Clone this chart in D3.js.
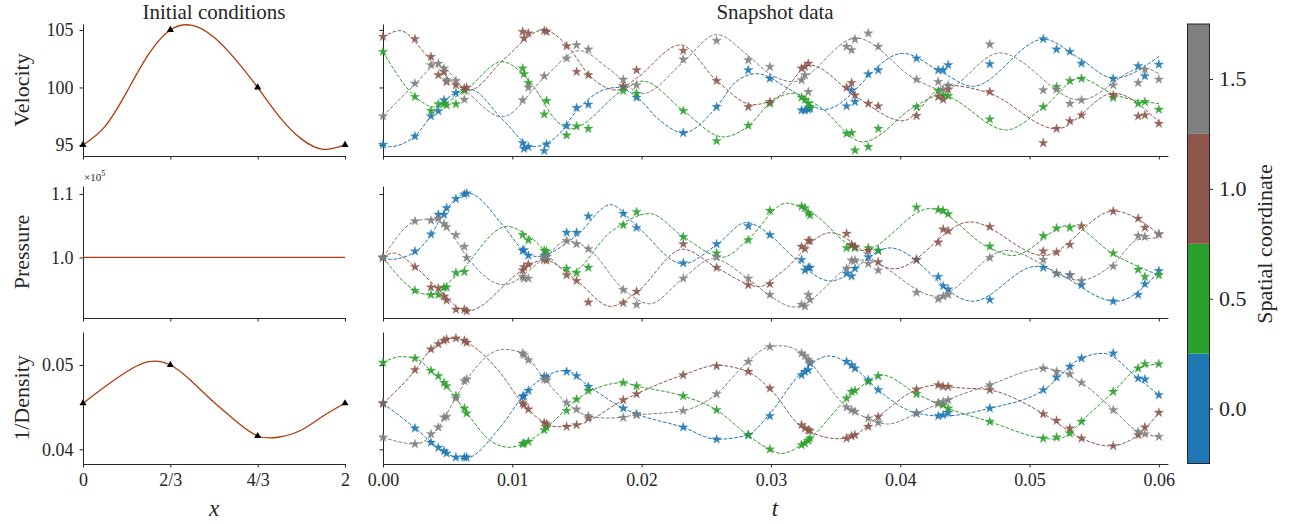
<!DOCTYPE html>
<html><head><meta charset="utf-8">
<script src="https://cdn.jsdelivr.net/npm/d3@7/dist/d3.min.js"></script>
<style>
html,body{margin:0;padding:0;background:#fff;}
svg{display:block;}
</style></head>
<body>
<svg id="chart" width="1293" height="524"></svg>
<script>
// ---------------- DATA ----------------
const seriesLabels = ["0.0", "0.5", "1.0", "1.5"];
const seriesColors = ["#1f77b4", "#2ca02c", "#8c564b", "#7f7f7f"];
const colorbarTicks = [0, 0.5, 1.0, 1.5];

// initial conditions (left column)
const xInit = [0, 0.1667, 0.3333, 0.5, 0.6667, 0.8333, 1, 1.1667, 1.3333, 1.5, 1.6667, 1.8333, 2];
const velInit = [95.0, 96.6, 99.6, 102.87, 105.0, 105.4, 104.36, 102.4, 100.0, 97.45, 95.53, 94.62, 95.0];
const presInit = [1, 1, 1, 1, 1, 1, 1, 1, 1, 1, 1, 1, 1];
const densInit = [0.04546, 0.04743, 0.0492, 0.05039, 0.0500, 0.04802, 0.04557, 0.04336, 0.04158, 0.04146, 0.04229, 0.04395, 0.04546];
const xTri = [0, 0.6667, 1.3333, 2];
const velTri = [95, 105, 100, 95];
const densTri = [0.04546, 0.0500, 0.04158, 0.04546];
const xInitTicks = [0, 0.6667, 1.3333, 2];
const xInitTickLabels = ["0", "2/3", "4/3", "2"];
const tTicks = [0, 0.01, 0.02, 0.03, 0.04, 0.05, 0.06];

// snapshot times (stars)
const snapT = [0, 0.00247, 0.00371, 0.00428, 0.00472, 0.00492, 0.00564, 0.00629, 0.00647,
  0.0108, 0.0109, 0.01124, 0.01247, 0.01265, 0.0142, 0.01497, 0.01588,
  0.01858, 0.01961, 0.02322, 0.0258, 0.02825, 0.02992,
  0.03237, 0.03263, 0.03289, 0.03302, 0.03585, 0.03624, 0.0365, 0.03753, 0.0383,
  0.04126, 0.04294, 0.04332, 0.04371, 0.04693, 0.05106, 0.05209, 0.05312, 0.05402, 0.05647, 0.0584, 0.05892, 0.06];

// Velocity stars
const velStarsBlue = [95.03,95.76,97.5,97.94,98.9,null,99.53,null,null, 95.17,94.68,94.83,94.48,95.06,96.69,98.23,98.52, 100.0,99.13,96.05,98.31,101.51,100.78, 98.02,98.02,98.08,98.17,98.37,99.77,98.75,101.16,101.51, 102.53,101.51,101.51,101.95,102.03,104.22,103.31,103.11,102.09,100.78,101.86,100.99,102.0];
const velStarsGreen = [103.11,99.19,97.97,98.55,98.55,98.46,98.55,99.71,null, 101.66,101.16,100.41,97.67,98.84,95.84,96.63,96.42, 99.71,99.48,97.97,95.35,96.69,98.6, 99.13,98.95,98.6,98.31,95.99,96.05,94.53,94.83,96.42, 98.31,99.71,99.33,99.27,97.24,98.31,100.06,100.58,100.78,99.1,98.6,98.75,98.08];
const velStarsBrown = [104.42,104.22,102.67,101.08,101.37,100.49,100.2,99.91,100.0, 104.85,104.27,104.71,104.94,104.85,103.6,101.37,101.08, 100.12,101.51,103.2,100.58,98.31,98.75, 101.66,101.8,102.09,null,100.0,100.41,99.33,98.6,98.37, 97.53,99.19,98.95,99.83,99.62,95.17,96.42,97.09,97.59,99.33,97.5,97.59,96.86];
const velStarsGray = [97.5,100.35,101.95,102.09,101.66,100.64,100.58,98.95,null, 98.9,null,100.0,100.99,null,102.53,103.69,103.31, 100.7,100.2,102.44,104.07,102.38,101.8, 100.64,101.08,99.62,null,103.55,103.26,104.19,104.71,103.55, 100.7,100.49,99.83,100.2,103.75,99.77,99.83,98.6,98.9,100.2,100.41,101.57,100.7];

// Pressure stars (x 1e5)
const presStarsBlue = [1.0,1.0098,1.0366,1.0675,1.0675,1.0778,1.0922,1.0994,1.101, 1.0108,1.0118,1.0031,1.0031,1.0015,1.0392,1.0392,1.0649, 1.069,1.0469,0.9912,1.0211,1.0495,1.0355, 0.9964,0.9799,0.984,0.984,0.9748,0.9706,0.9825,1.0005,1.0108, 0.9964,0.9696,0.9552,0.95,0.9335,0.984,0.9748,0.9722,0.9567,0.931,0.9413,0.9583,0.9789];
const presStarsGreen = [1.0,0.948,0.9413,0.9413,0.9526,0.9531,0.9758,0.9773,null, 1.0355,null,1.0273,1.0108,1.0098,0.9825,0.9758,0.984, 1.051,1.0716,1.0325,1.0067,1.0273,1.0737, 1.0804,1.0778,1.0701,1.0665,1.0149,1.0185,1.0149,1.0149,1.0108, 1.0788,1.0752,1.0737,1.0685,1.0175,1.034,1.0459,1.0469,null,1.0067,0.9809,0.9696,0.9722];
const presStarsBrown = [1.0,0.9851,0.9531,0.9516,0.9387,0.9325,0.9181,0.9181,0.9155, 0.9799,0.9851,0.9892,0.9964,0.9954,0.9722,0.9634,0.9294, 0.9284,0.9464,1.0211,0.984,0.9567,0.9583, 1.017,1.0134,1.0263,1.0263,1.0376,1.0201,1.017,1.0108,0.9928, 0.9964,1.0237,1.0443,1.0417,1.0484,1.0098,1.0082,1.0201,1.0495,1.0726,1.0613,1.0469,1.0366];
const presStarsGray = [1.0,1.0572,1.0582,1.0613,1.0531,1.0479,1.0355,1.017,0.9995, 0.9696,0.967,0.967,0.9995,1.0015,1.0263,1.0211,1.0134, 0.949,0.9258,0.967,1.0005,0.967,0.9413, 0.9258,0.9232,0.9413,0.9335,0.9825,0.9954,0.9954,0.9902,0.9799, 0.9449,0.9346,0.9387,0.9413,0.9995,0.9964,0.9748,0.9722,0.9634,0.9861,1.034,1.0325,1.0366];

// 1/Density stars
const densStarsBlue = [0.04545,0.04249,0.0408,0.0402,0.0398,0.03953,0.03905,0.03905,0.03905, 0.04625,0.04632,0.04696,0.04862,0.04854,0.04921,0.0487,0.04743, 0.04486,0.04419,0.04261,0.04119,0.0417,0.04395, 0.04881,0.04921,0.04941,0.0502,0.0504,0.05,0.0496,0.04822,0.04704, 0.04427,0.04395,0.04407,0.04435,0.04486,0.04704,0.04854,0.0498,0.05079,0.05138,0.04842,0.0483,0.04644];
const densStarsGreen = [0.05028,0.05079,0.04933,0.0487,0.0479,0.04751,0.04632,0.04486,0.04427, 0.04063,0.04071,0.04091,0.04229,0.04261,0.04458,0.04593,0.04696, 0.0479,0.04751,0.04632,0.04466,0.0417,0.04, 0.04051,0.04071,0.04103,0.0413,0.04605,0.04684,0.04696,0.04802,0.0487, 0.04656,0.04545,0.04526,0.04486,0.04328,0.0413,0.04142,0.0419,0.04328,0.04684,0.0496,0.05012,0.05012];
const densStarsBrown = [0.04545,0.04941,0.05186,0.05249,0.05289,0.05304,0.05316,0.05289,0.05265, 0.04545,0.04526,0.04474,0.04316,0.043,0.04269,0.04289,0.04368, 0.04585,0.04656,0.04881,0.04988,0.04921,0.04723, 0.04289,0.04249,0.04229,0.04221,0.0413,0.04158,0.0417,0.04269,0.04387, 0.04711,0.04763,0.04743,0.04743,0.04704,0.04419,0.0434,0.04249,0.0413,0.0404,0.0417,0.04261,0.04435];
const densStarsGray = [0.04142,0.04063,0.04182,0.04261,0.04379,0.04387,0.04605,0.0481,0.0483, 0.05138,0.05119,0.05059,0.0483,0.04822,0.04553,0.04474,0.04395, 0.04375,0.04407,0.04458,0.04656,0.0504,0.05217, 0.05138,0.05107,0.05059,0.0504,0.04498,0.04466,0.04447,0.04368,0.04316, 0.04427,0.04545,0.04565,0.04585,0.04763,0.0496,0.04921,0.04893,0.0479,0.04466,0.04209,0.04182,0.0415];

// Dashed model curves: [t, value]
const velCurveBlue = [[0,95.03],[0.0005,94.85],[0.0025,95.8],[0.0037,97.5],[0.0049,99.0],[0.0067,99.85],[0.0093,97.15],[0.0116,94.85],[0.0134,95.7],[0.015,98.0],[0.017,99.77],[0.0181,100.0],[0.0196,99.2],[0.0214,97.15],[0.0232,96.05],[0.0258,98.3],[0.0273,100.5],[0.0289,101.2],[0.0315,99.8],[0.0341,98.08],[0.0402,102.97],[0.0431,101.4],[0.0456,100.1],[0.0511,104.2],[0.0539,102.5],[0.0565,100.8],[0.06,102.7]];
const velCurveGreen = [[0,103.1],[0.0025,99.2],[0.0039,98.3],[0.0065,99.9],[0.0092,102.24],[0.0115,100.3],[0.0135,97.0],[0.0145,96.4],[0.0186,99.8],[0.0201,100.55],[0.0232,98.0],[0.0263,95.7],[0.0283,96.7],[0.0299,98.6],[0.0317,99.5],[0.0338,98.3],[0.0371,95.26],[0.0412,98.4],[0.0431,99.33],[0.0482,96.3],[0.0511,98.3],[0.0539,100.8],[0.0565,99.4],[0.06,98.6]];
const velCurveBrown = [[0,104.4],[0.0013,104.94],[0.0036,102.5],[0.0056,100.3],[0.0067,99.77],[0.0093,102.4],[0.0124,105.0],[0.0142,103.7],[0.016,101.0],[0.0181,99.77],[0.0196,100.8],[0.023,103.7],[0.0258,100.6],[0.0286,98.5],[0.0307,99.3],[0.033,101.95],[0.0366,99.2],[0.0402,97.1],[0.0436,100.2],[0.0469,99.5],[0.0521,96.4],[0.0565,99.5],[0.06,97.0]];
const velCurveGray = [[0,97.5],[0.0025,100.3],[0.0042,101.95],[0.0065,99.6],[0.0092,97.44],[0.0125,100.9],[0.0152,103.2],[0.0176,101.5],[0.0201,99.48],[0.0232,102.2],[0.0258,104.6],[0.0282,102.8],[0.0299,101.2],[0.0317,100.5],[0.0366,104.3],[0.0413,100.64],[0.0433,99.8],[0.0477,103.0],[0.0539,98.9],[0.0588,101.7],[0.06,101.2]];

const presCurveBlue = [[0,1.0],[0.0006,0.997],[0.0025,1.009],[0.0037,1.035],[0.0047,1.07],[0.0066,1.101],[0.0093,1.05],[0.0109,1.01],[0.0119,1.0015],[0.015,1.035],[0.0176,1.083],[0.0196,1.05],[0.0232,0.990],[0.0258,1.02],[0.0281,1.055],[0.0299,1.036],[0.0315,1.005],[0.0346,0.963],[0.0392,1.015],[0.0456,0.931],[0.0505,0.986],[0.0567,0.931],[0.06,0.977]];
const presCurveGreen = [[0,1.0],[0.0025,0.948],[0.0036,0.941],[0.0056,0.97],[0.0096,1.049],[0.0115,1.03],[0.0145,0.977],[0.0176,1.04],[0.0206,1.069],[0.0232,1.033],[0.0263,1.0005],[0.0283,1.03],[0.0312,1.0855],[0.033,1.072],[0.0371,1.011],[0.0423,1.077],[0.0469,1.015],[0.0487,1.003],[0.0531,1.051],[0.0565,1.005],[0.06,0.972]];
const presCurveBrown = [[0,1.0],[0.0008,1.007],[0.0025,0.985],[0.0042,0.952],[0.0065,0.9155],[0.0108,0.98],[0.0124,0.9964],[0.015,0.963],[0.0176,0.923],[0.0196,0.945],[0.0232,1.013],[0.0258,0.984],[0.0291,0.954],[0.0307,0.975],[0.0346,1.039],[0.0395,0.982],[0.0454,1.056],[0.0511,1.003],[0.0565,1.073],[0.06,1.037]];
const presCurveGray = [[0,1.0],[0.0025,1.057],[0.0038,1.061],[0.0052,1.04],[0.0066,0.998],[0.0093,0.957],[0.0124,0.998],[0.0142,1.026],[0.0158,1.015],[0.0186,0.95],[0.0206,0.927],[0.0232,0.967],[0.0255,0.998],[0.0282,0.967],[0.0299,0.94],[0.0318,0.922],[0.0372,0.996],[0.0428,0.939],[0.0482,1.011],[0.0539,0.964],[0.0565,0.99],[0.0584,1.028],[0.06,1.031]];

const densCurveBlue = [[0,0.04545],[0.0025,0.0425],[0.0043,0.0402],[0.006,0.0389],[0.0066,0.0390],[0.009,0.0425],[0.0112,0.047],[0.0125,0.0486],[0.0141,0.04935],[0.0159,0.0475],[0.0186,0.04486],[0.0196,0.0442],[0.0232,0.04261],[0.0258,0.04119],[0.0282,0.0417],[0.0299,0.0442],[0.0323,0.0490],[0.0345,0.05107],[0.0365,0.0496],[0.0383,0.04704],[0.0413,0.04427],[0.0433,0.04395],[0.0469,0.04486],[0.0511,0.04704],[0.054,0.0508],[0.0557,0.05138],[0.0584,0.0484],[0.06,0.04644]];
const densCurveGreen = [[0,0.05028],[0.0014,0.05099],[0.0025,0.05079],[0.0037,0.04933],[0.0049,0.04751],[0.0065,0.04427],[0.0085,0.0408],[0.0098,0.04024],[0.0112,0.04091],[0.0127,0.04261],[0.015,0.04593],[0.0186,0.0479],[0.0196,0.04751],[0.0232,0.04632],[0.0258,0.04466],[0.0282,0.0417],[0.0299,0.0400],[0.0308,0.0395],[0.033,0.0413],[0.0359,0.04605],[0.0375,0.04802],[0.0386,0.0488],[0.0413,0.04656],[0.0437,0.04486],[0.0469,0.04328],[0.0511,0.0413],[0.0521,0.0412],[0.0531,0.0419],[0.054,0.04328],[0.0565,0.04684],[0.0584,0.0496],[0.06,0.05012]];
const densCurveBrown = [[0,0.04545],[0.0025,0.04941],[0.0037,0.05186],[0.0047,0.05289],[0.0056,0.05316],[0.0065,0.05265],[0.009,0.0492],[0.0108,0.04545],[0.0125,0.04316],[0.0134,0.04269],[0.015,0.04289],[0.0186,0.04585],[0.0232,0.04881],[0.0258,0.04995],[0.0282,0.04921],[0.0299,0.04723],[0.0325,0.04249],[0.0353,0.04125],[0.0365,0.0417],[0.0383,0.04387],[0.0413,0.04711],[0.043,0.04763],[0.0437,0.04743],[0.0469,0.04704],[0.0511,0.04419],[0.054,0.0413],[0.0562,0.0404],[0.0584,0.0417],[0.06,0.04435]];
const densCurveGray = [[0,0.04142],[0.0025,0.04063],[0.0043,0.04261],[0.0056,0.04605],[0.0065,0.0483],[0.0093,0.05186],[0.0108,0.05138],[0.0125,0.0483],[0.0142,0.04553],[0.0159,0.04395],[0.0175,0.0437],[0.0196,0.04407],[0.0232,0.04458],[0.0258,0.04656],[0.0282,0.0504],[0.0299,0.05217],[0.0308,0.05228],[0.0324,0.05138],[0.033,0.0504],[0.0359,0.04498],[0.0375,0.04368],[0.039,0.0430],[0.0413,0.04427],[0.0433,0.04565],[0.0469,0.04763],[0.0511,0.0496],[0.054,0.0479],[0.0565,0.04466],[0.0584,0.04209],[0.06,0.0415]];

// ---------------- DRAWING ----------------
const FONT = '"Liberation Serif","Times New Roman",serif';
const INK = "#262626";
const INIT_COLOR = "#b03a0c";
const svg = d3.select("#chart");

const xL = d3.scaleLinear([0, 2], [83, 345]);
const xR = d3.scaleLinear([0, 0.0607], [383, 1167.9]);

const rows = [
  {label: "Velocity", top: 24, bottom: 156, domain: [94.04, 105.52], ticks: [95, 100, 105], fmt: d3.format("d"),
   init: velInit, tri: velTri,
   curves: [velCurveBlue, velCurveGreen, velCurveBrown, velCurveGray],
   stars: [velStarsBlue, velStarsGreen, velStarsBrown, velStarsGray]},
  {label: "Pressure", top: 186, bottom: 318, domain: [0.9047, 1.1125], ticks: [1.0, 1.1], fmt: d3.format(".1f"),
   init: presInit, tri: null,
   curves: [presCurveBlue, presCurveGreen, presCurveBrown, presCurveGray],
   stars: [presStarsBlue, presStarsGreen, presStarsBrown, presStarsGray]},
  {label: "1/Density", top: 332, bottom: 464, domain: [0.03826, 0.05391], ticks: [0.04, 0.05], fmt: d3.format(".2f"),
   init: densInit, tri: densTri,
   curves: [densCurveBlue, densCurveGreen, densCurveBrown, densCurveGray],
   stars: [densStarsBlue, densStarsGreen, densStarsBrown, densStarsGray]}
];

function styleAxis(g, size) {
  g.attr("font-family", FONT).attr("font-size", size);
  g.select(".domain").attr("stroke", INK).attr("stroke-width", 1);
  g.selectAll(".tick line").attr("stroke", INK).attr("stroke-width", 1);
  g.selectAll(".tick text").attr("fill", INK);
}

const starSym = d3.symbol(d3.symbolStar, 28);
const triSym = d3.symbol(d3.symbolTriangle, 22);

rows.forEach((r, ri) => {
  const last = ri === rows.length - 1;
  const y = d3.scaleLinear(r.domain, [r.bottom, r.top]);

  // ---- left column ----
  const gyL = svg.append("g").attr("transform", "translate(83,0)")
    .call(d3.axisLeft(y).tickValues(r.ticks).tickFormat(r.fmt).tickSize(3.5).tickSizeOuter(0).tickPadding(6));
  styleAxis(gyL, 18);
  const gxL = svg.append("g").attr("transform", `translate(0,${r.bottom})`)
    .call(d3.axisBottom(xL).tickValues(xInitTicks).tickFormat((d, i) => last ? xInitTickLabels[i] : "")
      .tickSize(3.5).tickSizeOuter(0).tickPadding(6));
  styleAxis(gxL, 18);

  svg.append("path")
    .datum(xInit.map((x, i) => [x, r.init[i]]))
    .attr("d", d3.line().x(d => xL(d[0])).y(d => y(d[1])).curve(d3.curveNatural))
    .attr("fill", "none").attr("stroke", INIT_COLOR).attr("stroke-width", 1.3);

  if (r.tri) {
    svg.append("g").selectAll("path").data(xTri.map((x, i) => [x, r.tri[i]])).join("path")
      .attr("transform", d => `translate(${xL(d[0])},${y(d[1])})`)
      .attr("d", triSym).attr("fill", "#000");
  }

  svg.append("text").attr("transform", `translate(29,${(r.top + r.bottom) / 2}) rotate(-90)`)
    .attr("text-anchor", "middle").attr("font-family", FONT).attr("font-size", 22).attr("fill", INK)
    .text(r.label);

  // ---- right column ----
  const gyR = svg.append("g").attr("transform", "translate(383,0)")
    .call(d3.axisLeft(y).tickValues(r.ticks).tickFormat(() => "").tickSize(3.5).tickSizeOuter(0));
  styleAxis(gyR, 18);
  const gxR = svg.append("g").attr("transform", `translate(0,${r.bottom})`)
    .call(d3.axisBottom(xR).tickValues(tTicks).tickFormat(last ? d3.format(".2f") : () => "")
      .tickSize(3.5).tickSizeOuter(0).tickPadding(6));
  styleAxis(gxR, 18);

  r.curves.forEach((c, si) => {
    svg.append("path").datum(c)
      .attr("d", d3.line().x(d => xR(d[0])).y(d => y(d[1])).curve(d3.curveMonotoneX))
      .attr("fill", "none").attr("stroke", seriesColors[si]).attr("stroke-width", 1)
      .attr("stroke-dasharray", "3.7,1.6");
  });
  r.stars.forEach((s, si) => {
    svg.append("g").selectAll("path")
      .data(snapT.map((t, i) => [t, s[i]]).filter(d => d[1] != null)).join("path")
      .attr("transform", d => `translate(${xR(d[0])},${y(d[1])})`)
      .attr("d", starSym).attr("fill", seriesColors[si]).attr("fill-opacity", 0.9)
      .attr("stroke", seriesColors[si]).attr("stroke-opacity", 0.35).attr("stroke-width", 0.8);
  });

  if (r.label === "Pressure") {
    const t = svg.append("text").attr("x", 84).attr("y", 181).attr("font-family", FONT)
      .attr("font-size", 11).attr("fill", INK);
    t.append("tspan").text("×10");
    t.append("tspan").attr("dy", -5).attr("font-size", 8).text("5");
  }
});

// titles
svg.append("text").attr("x", 214).attr("y", 19).attr("text-anchor", "middle")
  .attr("font-family", FONT).attr("font-size", 21).attr("fill", INK).text("Initial conditions");
svg.append("text").attr("x", 775).attr("y", 19).attr("text-anchor", "middle")
  .attr("font-family", FONT).attr("font-size", 21).attr("fill", INK).text("Snapshot data");

// x labels
svg.append("text").attr("x", 214).attr("y", 516).attr("text-anchor", "middle")
  .attr("font-family", FONT).attr("font-style", "italic").attr("font-size", 23).attr("fill", INK).text("x");
svg.append("text").attr("x", 775).attr("y", 516).attr("text-anchor", "middle")
  .attr("font-family", FONT).attr("font-style", "italic").attr("font-size", 23).attr("fill", INK).text("t");

// colorbar
const cbY = d3.scaleLinear([-0.25, 1.75], [463.5, 24]);
const cbX = 1187.5, cbW = 22;
svg.append("g").selectAll("rect").data(colorbarTicks).join("rect")
  .attr("x", cbX).attr("width", cbW)
  .attr("y", d => cbY(d + 0.25)).attr("height", d => cbY(d - 0.25) - cbY(d + 0.25))
  .attr("fill", (d, i) => seriesColors[i]);
svg.append("rect").attr("x", cbX).attr("y", cbY(1.75)).attr("width", cbW)
  .attr("height", cbY(-0.25) - cbY(1.75)).attr("fill", "none").attr("stroke", INK).attr("stroke-width", 1);
const gcb = svg.append("g").attr("transform", `translate(${cbX + cbW},0)`)
  .call(d3.axisRight(cbY).tickValues(colorbarTicks).tickFormat((d, i) => seriesLabels[i])
    .tickSize(3.5).tickSizeOuter(0).tickPadding(6));
styleAxis(gcb, 22);
gcb.select(".domain").remove();
svg.append("text").attr("transform", `translate(1272,244) rotate(-90)`).attr("text-anchor", "middle")
  .attr("font-family", FONT).attr("font-size", 22).attr("fill", INK).text("Spatial coordinate");
</script>
</body></html>
